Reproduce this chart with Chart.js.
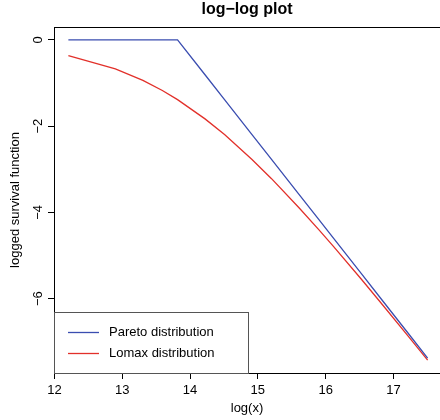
<!DOCTYPE html>
<html>
<head>
<meta charset="utf-8">
<script src="https://cdn.jsdelivr.net/npm/chart.js@4"></script>
<style>
  html, body { margin: 0; padding: 0; background: #fff; overflow: hidden; }
  #wrap { width: 442px; height: 420px; }
</style>
</head>
<body>
<div id="wrap"><canvas id="chart" width="442" height="420"></canvas></div>
<script>
const logX = [12.206, 12.899, 13.305, 13.592, 13.816, 14.221, 14.509, 14.914, 15.202,
              15.607, 15.895, 16.118, 16.524, 16.811, 17.217, 17.504];
const paretoY = [0, 0, 0, 0, 0, -0.810, -1.386, -2.197, -2.773,
                 -3.584, -4.159, -4.605, -5.416, -5.991, -6.802, -7.377];
const lomaxY = [-0.365, -0.673, -0.940, -1.176, -1.386, -1.833, -2.197, -2.773, -3.219,
                -3.892, -4.394, -4.796, -5.545, -6.089, -6.868, -7.427];
const xTicks = [12, 13, 14, 15, 16, 17];
const yTicks = [0, -2, -4, -6];
const seriesNames = ["Pareto distribution", "Lomax distribution"];
const seriesColors = ["#3a4db0", "#e2302a"];

const font = "Liberation Sans, Arial, Helvetica, sans-serif";

function toPoints(xs, ys) {
  return xs.map((x, i) => ({ x: x, y: ys[i] }));
}

// draws the R-style frame, title, rotated y tick labels, axis titles and legend
const rStyle = {
  id: "rStyle",
  afterDraw(chart) {
    const ctx = chart.ctx;
    const a = chart.chartArea;
    const ys = chart.scales.y;
    ctx.save();
    // box
    ctx.strokeStyle = "#000";
    ctx.lineWidth = 1;
    ctx.strokeRect(a.left + 0.5, a.top + 0.5, a.right - a.left, a.bottom - a.top);

    // title
    ctx.fillStyle = "#000";
    ctx.font = "bold 16px " + font;
    ctx.textAlign = "center";
    ctx.textBaseline = "middle";
    ctx.fillText("log\u2212log plot", (a.left + 440) / 2, 10);

    // y tick labels, rotated
    ctx.font = "13px " + font;
    yTicks.forEach((t) => {
      const py = ys.getPixelForValue(t);
      ctx.save();
      ctx.translate(38, py);
      ctx.rotate(-Math.PI / 2);
      ctx.fillText(t < 0 ? "\u2212" + Math.abs(t) : String(t), 0, 0);
      ctx.restore();
    });

    // axis titles
    ctx.fillText("log(x)", (a.left + 440) / 2, 408);
    ctx.save();
    ctx.translate(15, (a.top + a.bottom) / 2);
    ctx.rotate(-Math.PI / 2);
    ctx.fillText("logged survival function", 0, 0);
    ctx.restore();

    // legend
    ctx.strokeStyle = "#555";
    ctx.strokeRect(a.left + 0.5, 312.5, 194, a.bottom - 312);
    ctx.textAlign = "left";
    seriesNames.forEach((name, i) => {
      const ly = 332.5 + i * 21;
      ctx.strokeStyle = seriesColors[i];
      ctx.lineWidth = 1.3;
      ctx.beginPath();
      ctx.moveTo(68, ly);
      ctx.lineTo(99, ly);
      ctx.stroke();
      ctx.fillStyle = "#000";
      ctx.fillText(name, 109, ly);
    });
    ctx.restore();
  }
};

new Chart(document.getElementById("chart").getContext("2d"), {
  type: "scatter",
  data: {
    datasets: [
      {
        label: seriesNames[0],
        data: toPoints(logX, paretoY),
        showLine: true,
        borderColor: seriesColors[0],
        borderWidth: 1.3,
        pointRadius: 0,
        tension: 0,
      },
      {
        label: seriesNames[1],
        data: toPoints(logX, lomaxY),
        showLine: true,
        borderColor: seriesColors[1],
        borderWidth: 1.3,
        pointRadius: 0,
        tension: 0,
      },
    ],
  },
  options: {
    responsive: false,
    animation: false,
    layout: { padding: { top: 27, right: 0, left: 0, bottom: 0 } },
    plugins: {
      legend: { display: false },
      title: { display: false },
      tooltip: { enabled: false },
    },
    scales: {
      x: {
        type: "linear",
        min: 11.994,
        max: 17.716,
        afterFit(scale) { scale.height = 47; },
        afterBuildTicks(scale) { scale.ticks = xTicks.map((v) => ({ value: v })); },
        grid: { display: true, drawOnChartArea: false, drawTicks: true, tickLength: 6, color: "#000" },
        border: { display: false },
        ticks: { color: "#000", font: { family: font, size: 13 }, padding: 4, maxRotation: 0 },
      },
      y: {
        type: "linear",
        min: -7.724,
        max: 0.297,
        afterFit(scale) { scale.width = 54; },
        afterBuildTicks(scale) { scale.ticks = yTicks.map((v) => ({ value: v })); },
        grid: { display: true, drawOnChartArea: false, drawTicks: true, tickLength: 6, color: "#000" },
        border: { display: false },
        ticks: { display: false },
      },
    },
  },
  plugins: [rStyle],
});
</script>
</body>
</html>
